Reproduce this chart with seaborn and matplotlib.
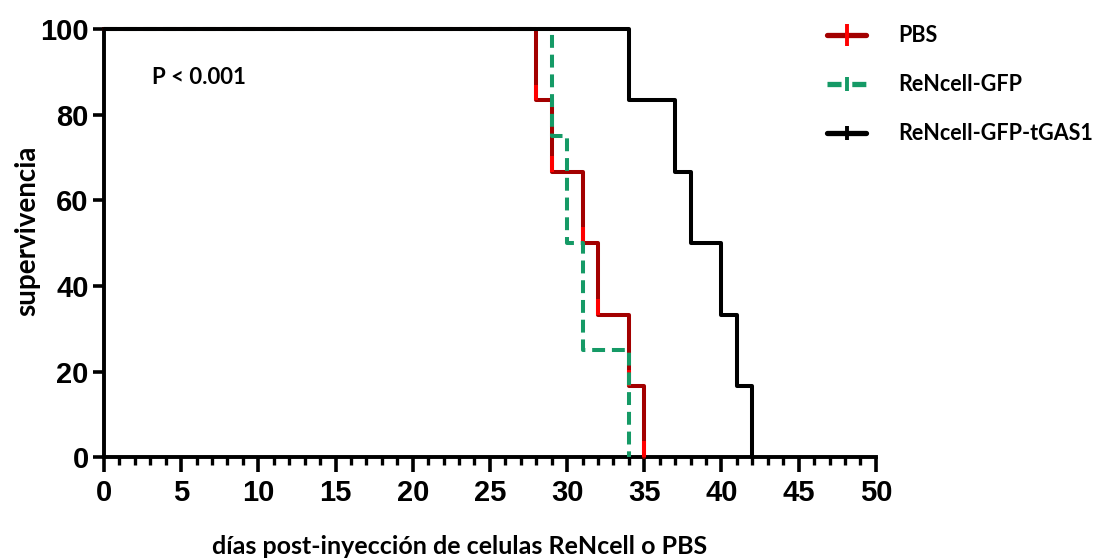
import numpy as np
import pandas as pd
import matplotlib
matplotlib.use("Agg")
import matplotlib.pyplot as plt
from matplotlib.lines import Line2D
from matplotlib.ticker import MultipleLocator
import seaborn as sns

# Kaplan-Meier step data: event times (days) and survival (%) after each event
groups = ["PBS", "ReNcell-GFP", "ReNcell-GFP-tGAS1"]
pbs_days = [0, 28, 29, 31, 32, 34, 35]
pbs_surv = [100, 83.33, 66.67, 50, 33.33, 16.67, 0]
gfp_days = [0, 29, 30, 31, 34]
gfp_surv = [100, 75, 50, 25, 0]
tgas_days = [0, 34, 37, 38, 40, 41, 42]
tgas_surv = [100, 83.33, 66.67, 50, 33.33, 16.67, 0]

colors = {"PBS": "#a30000", "ReNcell-GFP": "#159a66", "ReNcell-GFP-tGAS1": "#000000"}
dashes = {"PBS": None, "ReNcell-GFP": (3.2, 1.7), "ReNcell-GFP-tGAS1": None}
PBS_BRIGHT = "#ff0000"

frames = []
for g, d, s in zip(groups, [pbs_days, gfp_days, tgas_days],
                   [pbs_surv, gfp_surv, tgas_surv]):
    frames.append(pd.DataFrame({"dias": d, "surv": s, "grupo": g}))
df = pd.concat(frames, ignore_index=True)

sns.set_theme(style="white")
plt.rcParams["font.family"] = ["Liberation Sans", "DejaVu Sans"]
plt.rcParams["text.color"] = "black"
plt.rcParams["xtick.color"] = "black"
plt.rcParams["ytick.color"] = "black"
plt.rcParams["axes.labelcolor"] = "black"

fig = plt.figure(figsize=(10.98, 5.59), dpi=100)
ax = fig.add_axes([0.0947, 0.182, 0.703, 0.766])

for g in groups:
    sub = df[df["grupo"] == g]
    sns.lineplot(data=sub, x="dias", y="surv", ax=ax, drawstyle="steps-post",
                 estimator=None, color=colors[g], linewidth=2.9,
                 dashes=False, legend=False,
                 zorder={"PBS": 3, "ReNcell-GFP": 3.5, "ReNcell-GFP-tGAS1": 4}[g])
    if dashes[g]:
        ax.lines[-1].set_dashes(dashes[g])
    if g == "PBS":
        # brighter lower end of each PBS drop
        for d, s in zip(pbs_days[1:], pbs_surv[1:]):
            ax.plot([d, d], [s, s + 3.7], color=PBS_BRIGHT, linewidth=2.9,
                    solid_capstyle="butt", zorder=3.2)

ax.set_xlim(0, 50)
ax.set_ylim(0, 100)
for side in ["top", "right"]:
    ax.spines[side].set_visible(False)
for side in ["left", "bottom"]:
    ax.spines[side].set_linewidth(2.8)
    ax.spines[side].set_color("black")
    ax.spines[side].set_capstyle("projecting")
for ln in ax.lines:
    ln.set_clip_on(False)

ax.xaxis.set_major_locator(MultipleLocator(5))
ax.xaxis.set_minor_locator(MultipleLocator(1))
ax.yaxis.set_major_locator(MultipleLocator(20))
ax.tick_params(axis="x", which="major", direction="out", length=11, width=2.6,
               labelsize=21, pad=5, bottom=True, colors="black")
ax.tick_params(axis="x", which="minor", direction="out", length=6, width=2.4,
               bottom=True, colors="black")
ax.tick_params(axis="y", which="major", direction="out", length=8, width=2.6,
               labelsize=21, pad=3, left=True, colors="black")
for lab in ax.get_xticklabels() + ax.get_yticklabels():
    lab.set_fontweight("bold")

ax.set_xlabel("días post-inyección de celulas ReNcell o PBS", fontsize=18,
              fontweight="bold", family="Lato")
ax.set_ylabel("supervivencia", fontsize=20, fontweight="bold", family="Lato")
ax.xaxis.set_label_coords(0.461, -0.182)
ax.yaxis.set_label_coords(-0.082, 0.53)

ax.text(3.1, 88.8, "P < 0.001", fontsize=16, fontweight="bold", family="Lato",
        va="center", ha="left")

handles = []
for g in groups:
    handles.append(Line2D([], [], color=colors[g], linewidth=3.8, marker="|",
                          markersize=16 if g == "PBS" else 10, markeredgewidth=2.8,
                          markeredgecolor=PBS_BRIGHT if g == "PBS" else colors[g],
                          linestyle=(0, (2.66, 2.04)) if dashes[g] else "-"))
fig.legend(handles, groups, loc="upper left",
           bbox_to_anchor=(808 / 1098, 1 - 6 / 559),
           frameon=False, handlelength=1.8, handletextpad=1.5,
           labelspacing=1.3, prop={"family": "Lato", "weight": "bold", "size": 15.5})

fig.savefig("out.png", dpi=100)
